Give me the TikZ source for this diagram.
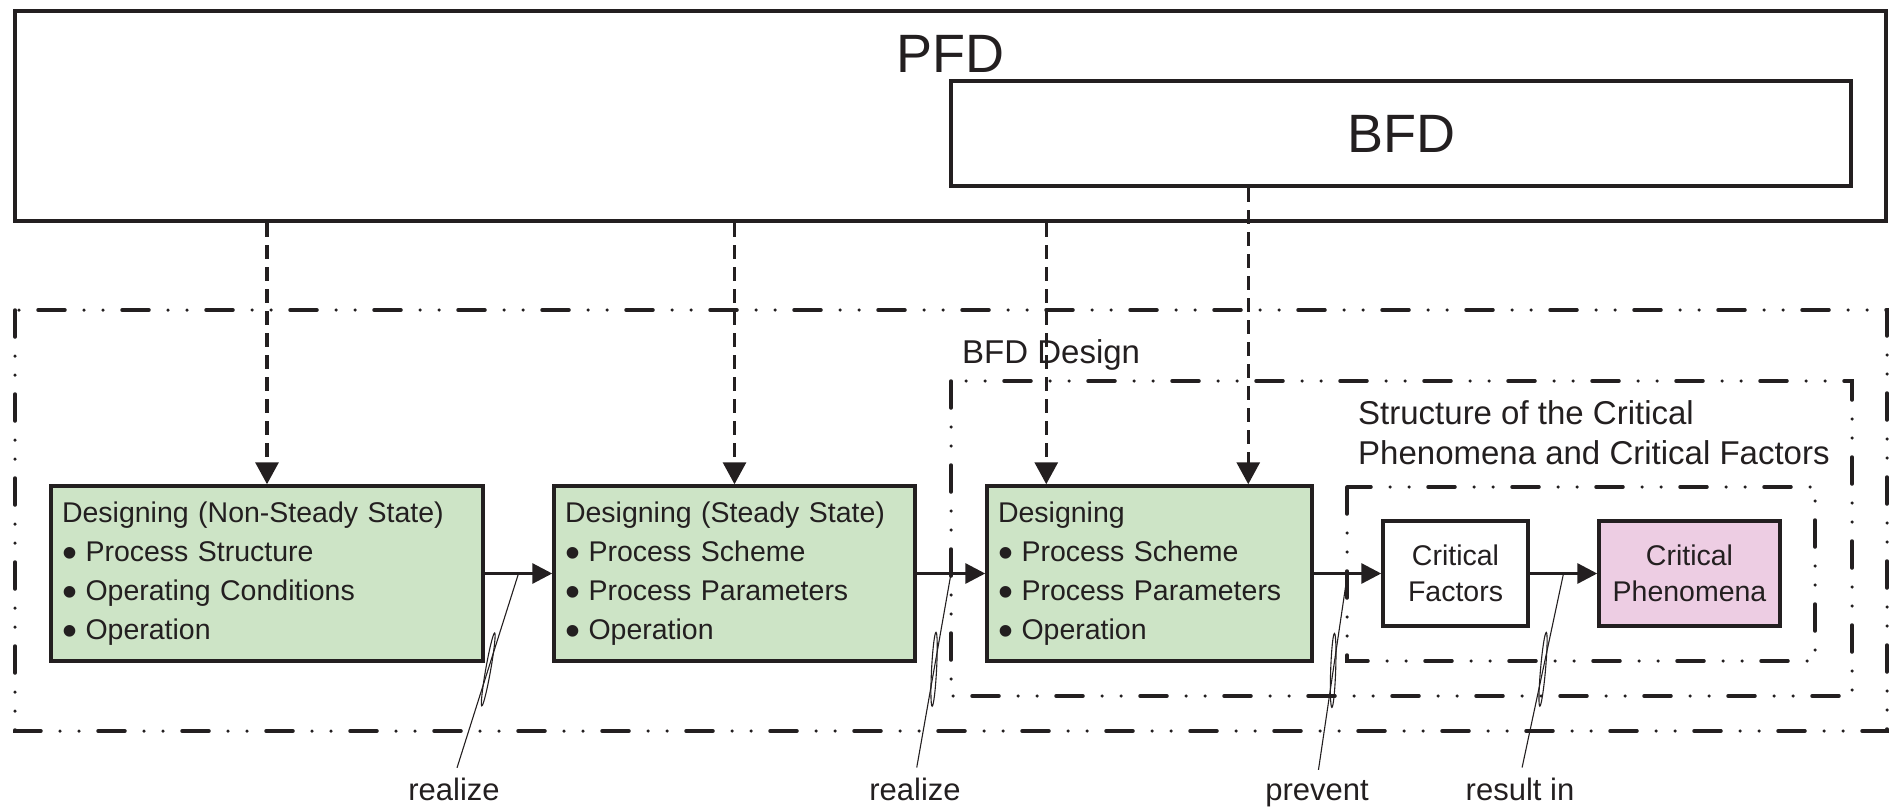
\documentclass[tikz,border=0pt]{standalone}
\usepackage{fontspec}
\setmainfont{Liberation Sans}
\usetikzlibrary{arrows.meta,calc}

\definecolor{ink}{HTML}{231F20}
\definecolor{stepgreen}{HTML}{CDE4C6}
\definecolor{phenopink}{HTML}{EDCDE3}

% bullet used inside the design step boxes
\newcommand{\bitem}{\raisebox{-0.22em}{\scalebox{1.5}{\textbullet}}\hspace{0.3em}}

\tikzset{
  diagramframe/.style={draw=ink, line width=4pt, fill=white, inner sep=0pt, text=ink},
  groupframe/.style={draw=ink, line width=3.5pt, line cap=round,
    dash pattern=on 27pt off 19pt on 0pt off 19pt on 0pt off 19pt},
  stepbox/.style={draw=ink, line width=3.5pt, fill=stepgreen, minimum height=175pt,
    inner xsep=11pt, inner ysep=0pt, align=left, text=ink,
    font=\fontsize{28.5}{39}\selectfont},
  factorbox/.style={draw=ink, line width=3.5pt, minimum height=105pt, inner sep=0pt,
    align=center, text=ink, font=\fontsize{28.5}{36}\selectfont},
  flow/.style={draw=ink, line width=3.2pt, -{Triangle[length=20pt,width=20pt]}},
  feed/.style={draw=ink, line width=3.2pt, dash pattern=on 14pt off 8pt,
    -{Triangle[length=22pt,width=23pt]}},
  leader/.style={draw=ink, line width=1.1pt},
  groupcaption/.style={inner sep=0pt, text=ink, font=\fontsize{33}{40}\selectfont},
  relation/.style={inner sep=0pt, text=ink, anchor=base, font=\fontsize{31}{37}\selectfont},
  headline/.style={inner sep=0pt, text=ink, font=\fontsize{54}{60}\selectfont}
}

\begin{document}
\begin{tikzpicture}[x=1pt,y=-1pt]
\useasboundingbox (0,0) rectangle (1890,808);

% nested groups: overall design, BFD design, critical structure
\draw[groupframe] (15,310) rectangle (1887,731);
\draw[groupframe] (951,381) rectangle (1852,696);
\draw[groupframe] (1347,487) rectangle (1815,661);

% flow diagrams
\node[diagramframe, minimum width=1871.5pt, minimum height=210pt] (pfd) at (950.25,116) {};
\node[headline, anchor=base] (pfdlabel) at (950,73) {PFD};
\node[diagramframe, minimum width=900pt, minimum height=105pt,
      font=\fontsize{54}{60}\selectfont] (bfd) at (1401,133.5) {BFD};

% group captions
\node[groupcaption, anchor=base west] (bfddesign) at (962,363) {BFD Design};
\node[groupcaption, anchor=north west, align=left] (critstruct) at (1358,400)
  {Structure of the Critical\\Phenomena and Critical Factors};

% design steps
\node[stepbox, text width=410pt] (s1) at (267,573.5)
  {Designing (Non-Steady State)\\\bitem Process Structure\\\bitem Operating Conditions\\\bitem Operation};
\node[stepbox, text width=339pt] (s2) at (734.5,573.5)
  {Designing (Steady State)\\\bitem Process Scheme\\\bitem Process Parameters\\\bitem Operation};
\node[stepbox, text width=303pt] (s3) at (1149.5,573.5)
  {Designing\\\bitem Process Scheme\\\bitem Process Parameters\\\bitem Operation};

% critical factors and phenomena
\node[factorbox, fill=white, minimum width=145pt] (cf) at (1455.5,573.5) {Critical\\Factors};
\node[factorbox, fill=phenopink, minimum width=181pt] (cp) at (1689.5,573.5) {Critical\\Phenomena};

% inputs from the flow diagrams
\coordinate (s3a) at ([xshift=61pt]s3.north west);
\coordinate (s3b) at ([xshift=263pt]s3.north west);
\draw[feed] (pfd.south -| s1.north) -- (s1.north);
\draw[feed] (pfd.south -| s2.north) -- (s2.north);
\draw[feed] (pfd.south -| s3a) -- (s3a);
\draw[feed] (bfd.south -| s3b) -- (s3b);

% main chain
\draw[flow] (s1.east) -- (s2.west);
\draw[flow] (s2.east) -- (s3.west);
\draw[flow] (s3.east) -- (cf.west);
\draw[flow] (cf.east) -- (cp.west);

% relation labels
\node[relation] (r1) at (454,800) {realize};
\node[relation] (r2) at (915,800) {realize};
\node[relation] (r3) at (1317,800) {prevent};
\node[relation] (r4) at (1520,800) {result in};

% leader lines with a twist mark
\coordinate (k1) at ($(s1.east)!0.5!(s2.west)$);
\coordinate (k2) at ($(s2.east)!0.5!(s3.west)$);
\coordinate (k3) at ($(s3.east)!0.5!(cf.west)$);
\coordinate (k4) at ($(cf.east)!0.5!(cp.west)$);
\draw[leader, shorten >=10pt] (k1) -- (r1.north);
\draw[leader, shorten >=10pt] (k2) -- (r2.north);
\draw[leader, shorten >=10pt] (k3) -- (r3.north);
\draw[leader, shorten >=10pt] (k4) -- (r4.north);
\coordinate (t1) at ($(k1)!0.47!(r1.north)$);
\coordinate (t2) at ($(k2)!0.47!(r2.north)$);
\coordinate (t3) at ($(k3)!0.47!(r3.north)$);
\coordinate (t4) at ($(k4)!0.47!(r4.north)$);
\draw[leader, rotate around={-10:(t1)}] (t1) ellipse [x radius=2.5pt, y radius=37pt];
\draw[leader, rotate around={-3:(t2)}] (t2) ellipse [x radius=2.5pt, y radius=37pt];
\draw[leader, rotate around={-2:(t3)}] (t3) ellipse [x radius=2.5pt, y radius=37pt];
\draw[leader, rotate around={-5:(t4)}] (t4) ellipse [x radius=2.5pt, y radius=37pt];
\end{tikzpicture}
\end{document}
